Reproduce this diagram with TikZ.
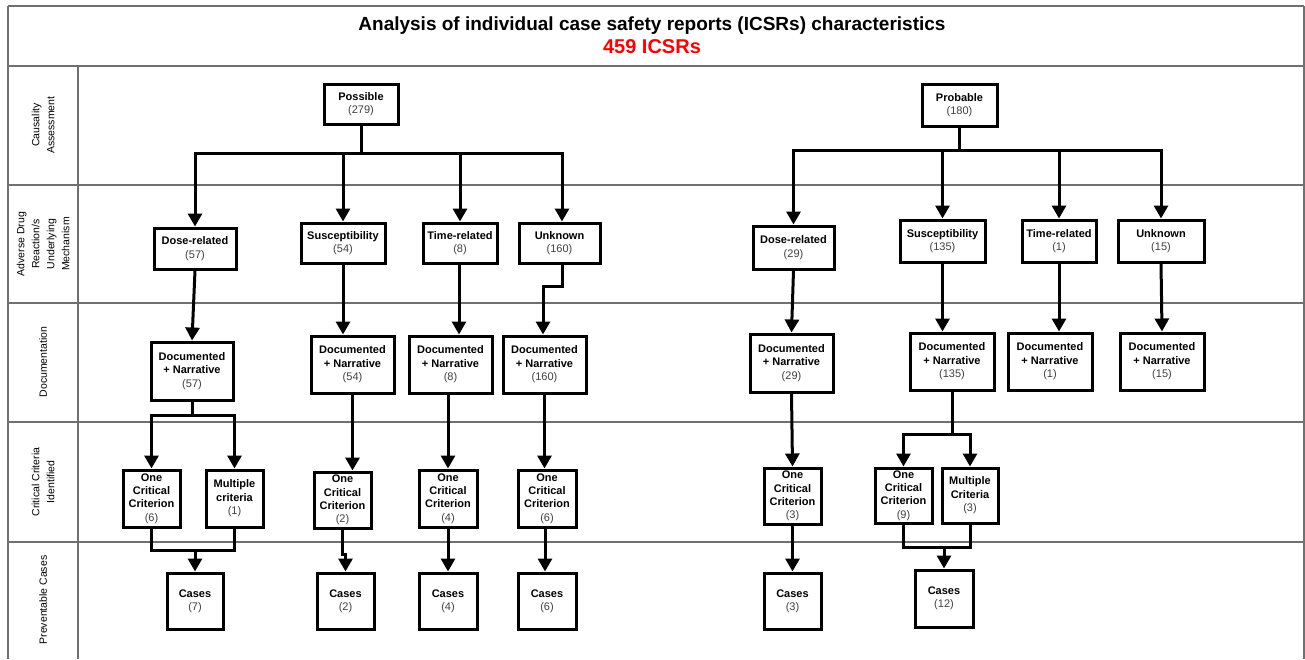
\documentclass[tikz,border=0pt]{standalone}
\usepackage{fontspec}
\setmainfont{Liberation Sans}
\usetikzlibrary{arrows.meta,calc}
\definecolor{numc}{HTML}{404040}
\definecolor{gridc}{HTML}{707070}
\newcommand{\nm}[1]{\textcolor{numc}{\mdseries #1}}
\begin{document}
\begin{tikzpicture}[x=1pt,y=-1pt,
  box/.style={draw=black,line width=3pt,fill=white,inner sep=0pt,align=center,
    font=\fontsize{11}{13.4}\selectfont\bfseries,text=black},
  wh/.style 2 args={minimum width=#1pt,minimum height=#2pt},
  conn/.style={line width=3pt,draw=black},
  arr/.style={conn,-{Triangle[width=14pt,length=13pt]}},
  grid/.style={draw=gridc,line width=1.3pt},
  rowlab/.style={rotate=90,align=center,font=\fontsize{10.5}{15}\selectfont,text=black}
]
\useasboundingbox (0,0) rectangle (1305,659);

% table grid
\draw[grid] (8,6) -- (1304,6);
\draw[grid] (8,6) -- (8,659);
\draw[grid] (1304,6) -- (1304,659);
\draw[grid] (8,66) -- (1304,66);
\foreach \yy in {185,303,422,542} {\draw[grid] (8,\yy) -- (1304,\yy);}
\draw[grid] (78,66) -- (78,659);

% title
\node[font=\fontsize{19}{22}\selectfont\bfseries] (title) at (652,26) {Analysis of individual case safety reports (ICSRs) characteristics};
\node[font=\fontsize{20}{22}\selectfont\bfseries,text=red] (count) at (652,47) {459 ICSRs};

% row labels
\node[rowlab] (rl1) at (43,125) {Causality\\Assessment};
\node[rowlab] (rl2) at (43,244) {Adverse Drug\\Reaction/s\\Underlying\\Mechanism};
\node[rowlab] (rl3) at (43,362) {Documentation};
\node[rowlab] (rl4) at (43,482) {Critical Criteria\\Identified};
\node[rowlab] (rl5) at (43,600) {Preventable Cases};

% ---------- left tree ----------
\node[box,wh={74}{40}] (P1) at (361,104) {Possible\\\nm{(279)}};
\node[box,wh={82}{41}] (D1) at (195,248.5) {Dose-related\\\nm{(57)}};
\node[box,wh={84}{40}] (S1) at (343,243) {Susceptibility\\\nm{(54)}};
\node[box,wh={74}{40}] (T1) at (460,243) {Time-related\\\nm{(8)}};
\node[box,wh={81}{40}] (U1) at (559.5,243) {Unknown\\\nm{(160)}};

\node[box,wh={82}{58}] (DN1) at (192,371) {Documented\\+ Narrative\\\nm{(57)}};
\node[box,wh={83}{57}] (DN2) at (352.5,364.5) {Documented\\+ Narrative\\\nm{(54)}};
\node[box,wh={83}{57}] (DN3) at (450.5,364.5) {Documented\\+ Narrative\\\nm{(8)}};
\node[box,wh={83}{57}] (DN4) at (544.5,364.5) {Documented\\+ Narrative\\\nm{(160)}};

\node[box,wh={57}{57}] (C1a) at (151.5,498.5) {One\\Critical\\Criterion\\\nm{(6)}};
\node[box,wh={57}{57}] (C1b) at (234.5,498.5) {Multiple\\criteria\\\nm{(1)}};
\node[box,wh={57}{56}] (C2) at (342.5,500) {One\\Critical\\Criterion\\\nm{(2)}};
\node[box,wh={58}{57}] (C3) at (448,498.5) {One\\Critical\\Criterion\\\nm{(4)}};
\node[box,wh={58}{57}] (C4) at (547,498.5) {One\\Critical\\Criterion\\\nm{(6)}};

\node[box,wh={56}{56}] (K1) at (195,601) {Cases\\\nm{(7)}};
\node[box,wh={57}{56}] (K2) at (345.5,601) {Cases\\\nm{(2)}};
\node[box,wh={58}{56}] (K3) at (448,601) {Cases\\\nm{(4)}};
\node[box,wh={58}{56}] (K4) at (547,601) {Cases\\\nm{(6)}};

\coordinate (b1) at (361,153);
\draw[conn] (P1.south) -- (b1);
\draw[arr] (b1) -| (D1.north);
\draw[arr] (b1) -| (S1.north);
\draw[arr] (b1) -| (T1.north);
\draw[arr] (b1) -| ([xshift=2.5pt]U1.north);

\draw[arr] (D1.south) -- (DN1.north);
\draw[arr] (S1.south) -- (S1.south |- DN2.north);
\draw[arr] (T1.south -| 459,0) -- (DN3.north -| 459,0);
\draw[arr] ([xshift=2.5pt]U1.south) -- ++(0,22) -| ([xshift=-1.5pt]DN4.north);

\coordinate (s1) at (192,415);
\draw[conn] (DN1.south) -- (s1);
\draw[arr] (s1) -| (C1a.north);
\draw[arr] (s1) -| (C1b.north);
\coordinate (m1) at (195,550);
\draw[conn] (C1a.south) |- (m1);
\draw[conn] (C1b.south) |- (m1);
\draw[arr] (m1) -- (K1.north);

\draw[arr] (DN2.south) -- (DN2.south |- C2.north);
\draw[arr] (C2.south) -- ++(0,25) -| (K2.north);
\draw[arr] (DN3.south -| C3.north) -- (C3.north);
\draw[arr] (C3.south) -- (K3.north);
\draw[arr] (DN4.south) -- (DN4.south |- C4.north);
\draw[arr] ([xshift=-2pt]C4.south) -- ([xshift=-2pt]K4.north);

% ---------- right tree ----------
\node[box,wh={75}{42}] (P2) at (959.5,105) {Probable\\\nm{(180)}};
\node[box,wh={81}{43}] (D2) at (793.5,247.5) {Dose-related\\\nm{(29)}};
\node[box,wh={85}{42}] (S2) at (942.5,241) {Susceptibility\\\nm{(135)}};
\node[box,wh={74}{42}] (T2) at (1059,241) {Time-related\\\nm{(1)}};
\node[box,wh={86}{42}] (U2) at (1161,241) {Unknown\\\nm{(15)}};

\node[box,wh={83}{58}] (DN5) at (791.5,363) {Documented\\+ Narrative\\\nm{(29)}};
\node[box,wh={84}{57}] (DN6) at (952,361.5) {Documented\\+ Narrative\\\nm{(135)}};
\node[box,wh={84}{57}] (DN7) at (1050,361.5) {Documented\\+ Narrative\\\nm{(1)}};
\node[box,wh={84}{57}] (DN8) at (1162,361.5) {Documented\\+ Narrative\\\nm{(15)}};

\node[box,wh={57}{56}] (C5) at (792.5,496) {One\\Critical\\Criterion\\\nm{(3)}};
\node[box,wh={57}{55}] (C6a) at (903.5,495.5) {One\\Critical\\Criterion\\\nm{(9)}};
\node[box,wh={56}{55}] (C6b) at (970,495.5) {Multiple\\Criteria\\\nm{(3)}};

\node[box,wh={57}{56}] (K5) at (792.5,601) {Cases\\\nm{(3)}};
\node[box,wh={58}{57}] (K6) at (944,598.5) {Cases\\\nm{(12)}};

\coordinate (b2) at (959.5,150);
\draw[conn] (P2.south) -- (b2);
\draw[arr] (b2) -| (D2.north);
\draw[arr] (b2) -| (S2.north);
\draw[arr] (b2) -| (T2.north);
\draw[arr] (b2) -| (U2.north);

\draw[arr] (D2.south) -- (DN5.north);
\draw[arr] (S2.south) -- (S2.south |- DN6.north);
\draw[arr] (T2.south) -- (T2.south |- DN7.north);
\draw[arr] (U2.south) -- (DN8.north);

\draw[arr] (DN5.south) -- (C5.north);
\draw[arr] (C5.south) -- (K5.north);

\coordinate (s2) at (952,434);
\draw[conn] (DN6.south) -- (s2);
\draw[arr] (s2) -| (C6a.north);
\draw[arr] (s2) -| (C6b.north);
\coordinate (m2) at (944,547);
\draw[conn] (C6a.south) |- (m2);
\draw[conn] (C6b.south) |- (m2);
\draw[arr] (m2) -- (K6.north);
\end{tikzpicture}
\end{document}
